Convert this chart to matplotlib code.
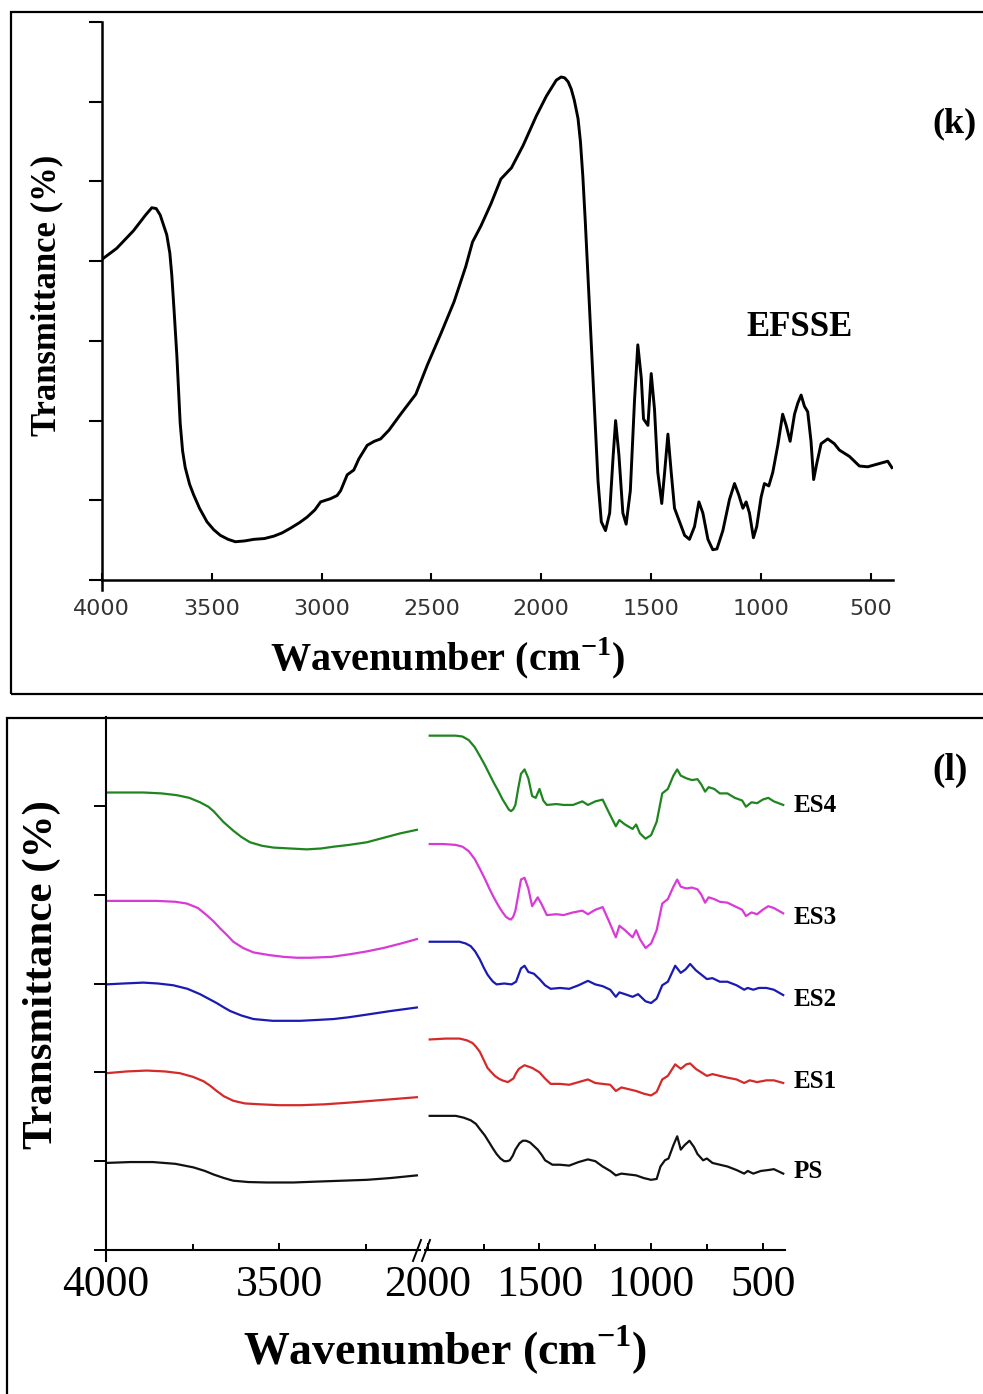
import matplotlib
matplotlib.use("Agg")
import matplotlib.pyplot as plt
from matplotlib.patches import Rectangle
from matplotlib.lines import Line2D

plt.rcParams['mathtext.fontset'] = 'custom'
plt.rcParams['mathtext.rm'] = 'Liberation Serif'
plt.rcParams['mathtext.bf'] = 'Liberation Serif:bold'

# ---------------- data: (k) EFSSE spectrum ----------------
efsse_wn = [4000, 3932, 3856, 3800, 3772, 3752, 3734, 3704, 3690, 3681, 3670, 3658,
            3643, 3632, 3620, 3600, 3582, 3555, 3521, 3490, 3460, 3425, 3392, 3350,
            3308, 3260, 3217, 3180, 3141, 3100, 3065, 3030, 3004, 2959, 2929, 2913,
            2883, 2853, 2830, 2792, 2760, 2731, 2693, 2640, 2571, 2518, 2457, 2397,
            2344, 2313, 2275, 2229, 2184, 2136, 2083, 2023, 1977, 1932, 1910, 1894,
            1878, 1864, 1850, 1833, 1822, 1811, 1800, 1788, 1765, 1742, 1727, 1708,
            1689, 1674, 1662, 1647, 1629, 1614, 1595, 1576, 1561, 1545, 1535, 1515,
            1500, 1485, 1470, 1452, 1439, 1424, 1409, 1394, 1371, 1348, 1326, 1303,
            1283, 1265, 1242, 1220, 1201, 1174, 1144, 1121, 1102, 1083, 1068, 1053,
            1035, 1020, 1000, 985, 965, 947, 924, 902, 886, 868, 848, 833,
            818, 803, 788, 773, 761, 747, 727, 697, 667, 644, 598, 553,
            515, 462, 424, 405]
efsse_t = [4.02, 4.16, 4.38, 4.58, 4.67, 4.66, 4.58, 4.33, 4.10, 3.82, 3.35, 2.81,
           1.97, 1.62, 1.41, 1.20, 1.07, 0.90, 0.73, 0.63, 0.56, 0.51, 0.48, 0.49,
           0.51, 0.52, 0.55, 0.59, 0.65, 0.72, 0.79, 0.88, 0.98, 1.02, 1.06, 1.12,
           1.32, 1.38, 1.52, 1.69, 1.74, 1.77, 1.88, 2.08, 2.33, 2.70, 3.09, 3.49,
           3.93, 4.24, 4.44, 4.72, 5.03, 5.17, 5.45, 5.82, 6.07, 6.27, 6.31, 6.30,
           6.25, 6.16, 6.02, 5.79, 5.50, 5.06, 4.50, 3.82, 2.53, 1.24, 0.73, 0.62,
           0.84, 1.52, 2.00, 1.57, 0.84, 0.70, 1.12, 2.25, 2.95, 2.53, 2.02, 1.94,
           2.59, 2.14, 1.35, 0.96, 1.35, 1.83, 1.35, 0.90, 0.73, 0.56, 0.51, 0.67,
           0.98, 0.84, 0.51, 0.38, 0.39, 0.62, 1.01, 1.21, 1.07, 0.90, 0.98, 0.84,
           0.53, 0.67, 1.04, 1.21, 1.18, 1.35, 1.69, 2.08, 1.94, 1.74, 2.08, 2.22,
           2.32, 2.18, 2.11, 1.74, 1.26, 1.46, 1.71, 1.77, 1.71, 1.63, 1.55, 1.43,
           1.42, 1.46, 1.49, 1.41]

k_xticks = [4000, 3500, 3000, 2500, 2000, 1500, 1000, 500]

# ---------------- data: (l) stacked spectra ----------------
ps_wn_hi = [4000, 3930, 3865, 3800, 3748, 3715, 3690, 3660, 3633, 3590, 3537,
            3460, 3392, 3320, 3248, 3180, 3104]
ps_t_hi = [0.98, 0.99, 0.99, 0.97, 0.93, 0.89, 0.85, 0.81, 0.78, 0.765, 0.76,
           0.76, 0.77, 0.78, 0.79, 0.81, 0.84]
ps_wn_lo = [1992, 1930, 1875, 1840, 1808, 1785, 1767, 1745, 1725, 1708,
            1692, 1675, 1658, 1645, 1633, 1620, 1608, 1590, 1575, 1560,
            1542, 1525, 1508, 1490, 1475, 1442, 1408, 1367, 1325, 1283,
            1250, 1217, 1183, 1158, 1133, 1100, 1067, 1033, 1000, 975,
            958, 938, 922, 900, 883, 867, 850, 828, 808, 792,
            767, 750, 725, 692, 658, 617, 583, 567, 542, 508,
            475, 450, 408]
ps_t_lo = [1.51, 1.51, 1.51, 1.49, 1.46, 1.42, 1.36, 1.29, 1.21, 1.14,
           1.08, 1.03, 1.00, 1.00, 1.01, 1.06, 1.13, 1.20, 1.23, 1.23,
           1.21, 1.17, 1.13, 1.07, 1.01, 0.96, 0.96, 0.95, 0.99, 1.02,
           1.00, 0.94, 0.89, 0.84, 0.86, 0.85, 0.84, 0.81, 0.79, 0.80,
           0.94, 1.01, 1.03, 1.18, 1.28, 1.13, 1.18, 1.23, 1.16, 1.08,
           1.01, 1.03, 0.98, 0.96, 0.94, 0.90, 0.86, 0.89, 0.86, 0.89,
           0.90, 0.91, 0.86]

es1_wn_hi = [4000, 3940, 3883, 3830, 3787, 3750, 3719, 3700, 3681, 3660, 3633,
             3600, 3556, 3500, 3440, 3370, 3296, 3200, 3104]
es1_t_hi = [1.99, 2.01, 2.02, 2.01, 1.99, 1.95, 1.90, 1.85, 1.79, 1.73, 1.68,
            1.65, 1.64, 1.63, 1.63, 1.64, 1.66, 1.69, 1.72]
es1_wn_lo = [1992, 1920, 1858, 1825, 1800, 1785, 1767, 1750, 1733, 1715,
             1700, 1683, 1667, 1642, 1617, 1605, 1592, 1567, 1533, 1500,
             1475, 1450, 1408, 1367, 1325, 1283, 1250, 1217, 1183, 1158,
             1133, 1100, 1067, 1033, 1000, 975, 950, 925, 892, 867,
             842, 825, 800, 775, 750, 725, 692, 658, 617, 583,
             558, 525, 483, 450, 408]
es1_t_lo = [2.37, 2.38, 2.38, 2.36, 2.33, 2.29, 2.23, 2.14, 2.05, 2.00,
            1.96, 1.93, 1.91, 1.89, 1.93, 1.99, 2.04, 2.08, 2.05, 2.00,
            1.93, 1.87, 1.87, 1.86, 1.89, 1.92, 1.88, 1.87, 1.86, 1.79,
            1.83, 1.81, 1.79, 1.76, 1.74, 1.78, 1.92, 1.96, 2.09, 2.04,
            2.09, 2.10, 2.04, 2.00, 1.96, 1.98, 1.96, 1.94, 1.92, 1.88,
            1.91, 1.89, 1.91, 1.91, 1.88]

es2_wn_hi = [4000, 3950, 3892, 3850, 3806, 3765, 3729, 3705, 3681, 3660, 3642,
             3610, 3575, 3520, 3440, 3390, 3344, 3300, 3248, 3180, 3104]
es2_t_hi = [2.99, 3.00, 3.01, 3.00, 2.98, 2.94, 2.88, 2.83, 2.78, 2.73, 2.69,
            2.64, 2.60, 2.58, 2.58, 2.59, 2.60, 2.62, 2.65, 2.69, 2.73]
es2_wn_lo = [1992, 1920, 1858, 1830, 1808, 1788, 1767, 1750, 1733, 1718,
             1708, 1692, 1658, 1625, 1605, 1583, 1567, 1550, 1525, 1500,
             1475, 1450, 1408, 1367, 1325, 1283, 1250, 1217, 1183, 1158,
             1142, 1117, 1083, 1058, 1025, 1000, 975, 950, 925, 892,
             867, 845, 825, 800, 775, 750, 725, 692, 658, 617,
             583, 567, 542, 517, 483, 450, 408]
es2_t_lo = [3.47, 3.47, 3.47, 3.45, 3.42, 3.36, 3.27, 3.18, 3.10, 3.05,
            3.02, 2.99, 3.00, 2.99, 3.02, 3.17, 3.20, 3.13, 3.11, 3.05,
            2.98, 2.94, 2.95, 2.94, 2.98, 3.03, 2.99, 2.97, 2.93, 2.85,
            2.90, 2.88, 2.85, 2.88, 2.80, 2.78, 2.83, 2.98, 3.02, 3.20,
            3.12, 3.16, 3.22, 3.15, 3.10, 3.05, 3.06, 3.02, 3.02, 2.98,
            2.93, 2.95, 2.93, 2.95, 2.95, 2.93, 2.87]

es3_wn_hi = [4000, 3930, 3854, 3800, 3767, 3735, 3710, 3690, 3671, 3650, 3633,
             3605, 3575, 3530, 3488, 3450, 3412, 3350, 3296, 3250, 3200, 3150, 3104]
es3_t_hi = [3.93, 3.93, 3.93, 3.92, 3.90, 3.85, 3.77, 3.70, 3.62, 3.54, 3.47,
            3.40, 3.35, 3.32, 3.30, 3.29, 3.29, 3.30, 3.33, 3.36, 3.40, 3.45, 3.50]
es3_wn_lo = [1992, 1930, 1875, 1845, 1817, 1790, 1767, 1745, 1725, 1705,
             1683, 1665, 1650, 1638, 1628, 1618, 1608, 1595, 1583, 1567,
             1550, 1533, 1508, 1492, 1467, 1425, 1392, 1350, 1308, 1283,
             1250, 1217, 1192, 1158, 1142, 1117, 1083, 1067, 1050, 1025,
             1000, 975, 950, 925, 900, 883, 867, 842, 817, 792,
             775, 758, 742, 717, 692, 658, 625, 592, 575, 550,
             525, 500, 475, 450, 408]
es3_t_lo = [4.57, 4.57, 4.56, 4.54, 4.49, 4.40, 4.29, 4.18, 4.07, 3.97,
            3.87, 3.80, 3.75, 3.73, 3.72, 3.75, 3.82, 4.00, 4.17, 4.19,
            4.07, 3.87, 3.97, 3.90, 3.77, 3.78, 3.77, 3.80, 3.82, 3.78,
            3.83, 3.86, 3.72, 3.52, 3.65, 3.60, 3.52, 3.60, 3.50, 3.40,
            3.45, 3.60, 3.90, 3.95, 4.09, 4.17, 4.09, 4.07, 4.08, 4.06,
            4.00, 3.91, 3.97, 3.95, 3.92, 3.91, 3.87, 3.83, 3.76, 3.80,
            3.78, 3.83, 3.87, 3.85, 3.79]

es4_wn_hi = [4000, 3950, 3892, 3840, 3796, 3760, 3729, 3705, 3690, 3662, 3633,
             3610, 3585, 3550, 3517, 3470, 3421, 3380, 3344, 3300, 3248, 3200,
             3152, 3104]
es4_t_hi = [5.15, 5.15, 5.15, 5.14, 5.12, 5.09, 5.04, 4.99, 4.94, 4.82, 4.72,
            4.65, 4.59, 4.55, 4.53, 4.52, 4.51, 4.52, 4.54, 4.56, 4.59, 4.64,
            4.69, 4.73]
es4_wn_lo = [1992, 1930, 1875, 1845, 1817, 1790, 1767, 1745, 1725, 1705,
             1683, 1665, 1650, 1638, 1628, 1618, 1608, 1595, 1583, 1567,
             1550, 1533, 1517, 1500, 1483, 1467, 1425, 1392, 1350, 1308,
             1283, 1250, 1217, 1192, 1158, 1142, 1117, 1083, 1067, 1050,
             1025, 1000, 975, 950, 925, 900, 883, 867, 842, 817,
             792, 775, 758, 742, 717, 692, 658, 625, 592, 575,
             550, 525, 500, 475, 450, 408]
es4_t_lo = [5.79, 5.79, 5.79, 5.78, 5.74, 5.66, 5.56, 5.46, 5.36, 5.26,
            5.16, 5.07, 5.01, 4.96, 4.94, 4.96, 5.01, 5.20, 5.36, 5.41,
            5.31, 5.11, 5.09, 5.19, 5.06, 5.01, 5.02, 5.01, 5.01, 5.05,
            5.01, 5.05, 5.07, 4.94, 4.77, 4.84, 4.79, 4.74, 4.79, 4.69,
            4.63, 4.67, 4.82, 5.14, 5.19, 5.34, 5.41, 5.34, 5.31, 5.29,
            5.30, 5.24, 5.16, 5.21, 5.19, 5.14, 5.14, 5.09, 5.06, 4.99,
            5.04, 5.03, 5.07, 5.09, 5.05, 5.01]

series_names = ["PS", "ES1", "ES2", "ES3", "ES4"]
series_colors = ["#111111", "#d42a2a", "#1a1ab4", "#d83ad8", "#1f851f"]
label_y_px = [1172, 1082, 1000, 917, 805]

l_hi_ticks = [4000, 3500]
l_hi_minor = [3750, 3250]
l_lo_ticks = [2000, 1500, 1000, 500]
l_lo_minor = [1750, 1250, 750]

# ---------------- figure ----------------
W, H = 983, 1394
fig = plt.figure(figsize=(W / 100, H / 100), dpi=100)


def fx(px):
    return px / W


def fy(py):
    return 1 - py / H


SERIF = "Liberation Serif"

# panel frames
for (x0, y0, x1, y1) in [(11, 12, 995, 694), (7, 718, 995, 1405)]:
    fig.add_artist(Rectangle((fx(x0), fy(y1)), (x1 - x0) / W, (y1 - y0) / H,
                             transform=fig.transFigure, fill=False,
                             lw=1.6, edgecolor="black"))

# ================= (k) =================
axk = fig.add_axes([fx(101.7), fy(580), (893 - 101.7) / W, (580 - 22) / H])
axk.plot(efsse_wn, efsse_t, color="black", lw=2.1, solid_joinstyle="round")
axk.set_xlim(4000, 400)
axk.set_ylim(0, 7)
for s in ["top", "right"]:
    axk.spines[s].set_visible(False)
for s in ["left", "bottom"]:
    axk.spines[s].set_linewidth(1.8)
axk.set_yticks(range(0, 8))
axk.set_yticklabels([])
axk.tick_params(axis="y", direction="out", length=9.5, width=1.5)
axk.set_xticks(k_xticks)
axk.set_xticklabels([str(v) for v in k_xticks], fontsize=16,
                    family="DejaVu Sans", color="#333333")
axk.tick_params(axis="x", direction="in", length=5, width=1.5, pad=14)
axk.add_line(Line2D([0, 0], [0, -0.018], transform=axk.transAxes,
                    color="black", lw=1.8, clip_on=False))

fig.text(fx(447), fy(658), "Wavenumber (cm$^{\\mathbf{-1}}$)", family=SERIF,
         weight="bold", fontsize=29, ha="center", va="center")
fig.text(fx(47), fy(295), "Transmittance (%)", family=SERIF, weight="bold",
         fontsize=25, rotation=90, ha="center", va="center")
fig.text(fx(800), fy(328), "EFSSE", family=SERIF, weight="bold",
         fontsize=25, ha="center", va="center")
fig.text(fx(955), fy(124), "(k)", family=SERIF, weight="bold",
         fontsize=26, ha="center", va="center")

# ================= (l) =================
ax_hi = fig.add_axes([fx(106), fy(1250), (420 - 106) / W, (1250 - 717) / H])
ax_lo = fig.add_axes([fx(425), fy(1250), (785 - 425) / W, (1250 - 717) / H])

hi_data = [(ps_wn_hi, ps_t_hi), (es1_wn_hi, es1_t_hi), (es2_wn_hi, es2_t_hi),
           (es3_wn_hi, es3_t_hi), (es4_wn_hi, es4_t_hi)]
lo_data = [(ps_wn_lo, ps_t_lo), (es1_wn_lo, es1_t_lo), (es2_wn_lo, es2_t_lo),
           (es3_wn_lo, es3_t_lo), (es4_wn_lo, es4_t_lo)]

for (wh, th), (wl, tl), c in zip(hi_data, lo_data, series_colors):
    ax_hi.plot(wh, th, color=c, lw=1.6, solid_joinstyle="round")
    ax_lo.plot(wl, tl, color=c, lw=1.6, solid_joinstyle="round")

ax_hi.set_xlim(4000, 3095)
ax_lo.set_xlim(2013, 400)
for ax in (ax_hi, ax_lo):
    ax.set_ylim(0, 6)
    ax.spines["top"].set_visible(False)
    ax.spines["right"].set_visible(False)
    ax.spines["bottom"].set_linewidth(1.5)
    ax.tick_params(axis="x", which="major", direction="in", length=5,
                   width=1.4, pad=11, labelsize=31.5)
    ax.tick_params(axis="x", which="minor", direction="in", length=4.5,
                   width=1.4)
ax_hi.spines["left"].set_linewidth(1.5)
ax_hi.set_yticks(range(0, 6))
ax_hi.set_yticklabels([])
ax_hi.tick_params(axis="y", direction="out", length=8.6, width=1.4)
ax_lo.spines["left"].set_visible(False)
ax_lo.set_yticks([])

ax_hi.set_xticks(l_hi_ticks)
ax_hi.set_xticks(l_hi_minor, minor=True)
ax_hi.set_xticklabels([str(v) for v in l_hi_ticks], family=SERIF)
ax_lo.set_xticks(l_lo_ticks)
ax_lo.set_xticks(l_lo_minor, minor=True)
ax_lo.set_xticklabels([str(v) for v in l_lo_ticks], family=SERIF)
ax_hi.add_line(Line2D([0, 0], [0, -0.02], transform=ax_hi.transAxes,
                      color="black", lw=1.5, clip_on=False))

# axis break marks
for x_off in (0, 9):
    fig.add_artist(Line2D([fx(413 + x_off), fx(421 + x_off)],
                          [fy(1261), fy(1240)], transform=fig.transFigure,
                          color="black", lw=1.4))

for name, ypx in zip(series_names, label_y_px):
    fig.text(fx(794), fy(ypx), name, family=SERIF, weight="bold",
             fontsize=18, ha="left", va="center")

fig.text(fx(445), fy(1350), "Wavenumber (cm$^{\\mathbf{-1}}$)", family=SERIF,
         weight="bold", fontsize=33, ha="center", va="center")
fig.text(fx(42), fy(975), "Transmittance (%)", family=SERIF, weight="bold",
         fontsize=31, rotation=90, ha="center", va="center")
fig.text(fx(950), fy(770), "(l)", family=SERIF, weight="bold",
         fontsize=27, ha="center", va="center")

fig.savefig("out.png", dpi=100)
